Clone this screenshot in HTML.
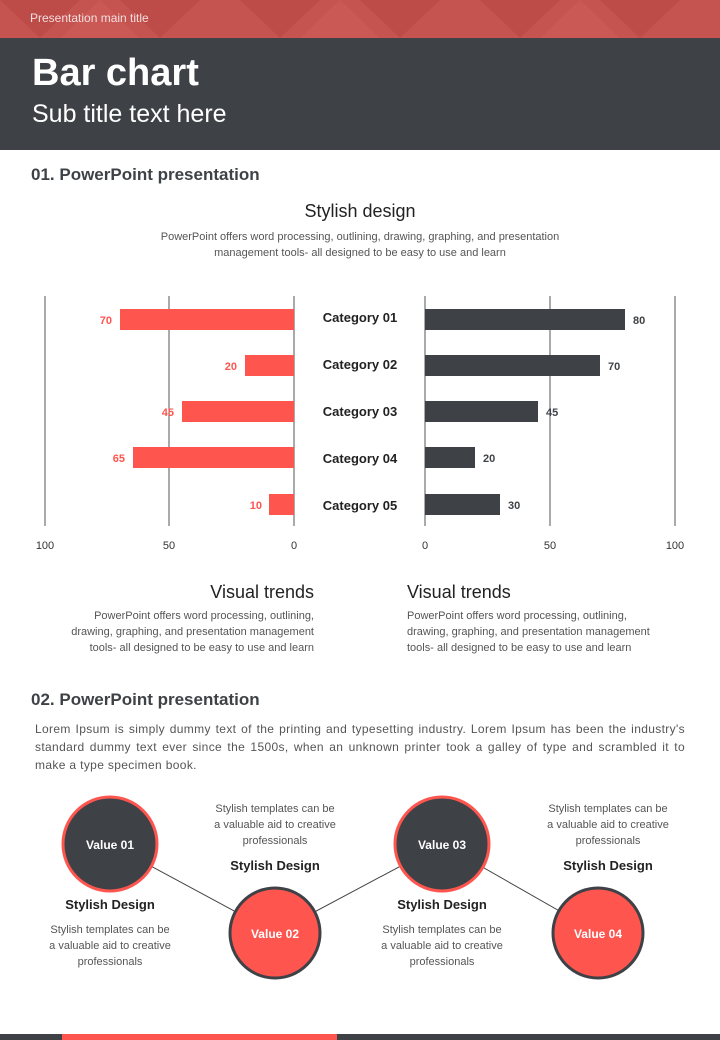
<!DOCTYPE html>
<html><head><meta charset="utf-8"><style>
*{margin:0;padding:0;box-sizing:border-box}
body{width:720px;height:1040px;background:#fff;font-family:"Liberation Sans",sans-serif;position:relative;overflow:hidden;color:#3e4247}
.abs{position:absolute}
.t{font-size:11px;color:#555;line-height:16px}
.c{text-align:center}
</style></head><body>
<div class="abs" style="left:0;top:0;width:720px;height:38px;background:#c55350"></div>
<svg class="abs" style="left:0;top:0" width="720" height="38">
<g fill="#b84845" opacity="0.6"><polygon points="0,0 40,38 80,0"/><polygon points="120,0 160,38 200,0"/><polygon points="240,0 280,38 320,0"/><polygon points="360,0 400,38 440,0"/><polygon points="480,0 520,38 560,0"/><polygon points="600,0 640,38 680,0"/></g>
<g fill="#cf5f5b" opacity="0.5"><polygon points="60,38 100,0 140,38"/><polygon points="300,38 340,0 380,38"/><polygon points="540,38 580,0 620,38"/></g>
</svg>
<div class="abs" style="left:30px;top:11px;font-size:12px;color:#f3dede">Presentation main title</div>
<div class="abs" style="left:0;top:38px;width:720px;height:112px;background:#3e4247"></div>
<div class="abs" style="left:32px;top:52px;font-size:38px;font-weight:bold;color:#fff">Bar chart</div>
<div class="abs" style="left:32px;top:100px;font-size:25px;color:#fff">Sub title text here</div>

<div class="abs" style="left:31px;top:165px;font-size:17px;font-weight:bold">01. PowerPoint presentation</div>
<div class="abs c" style="left:0;width:720px;top:201px;font-size:18px;color:#222">Stylish design</div>
<div class="abs c t" style="left:0;width:720px;top:229px">PowerPoint offers word processing, outlining, drawing, graphing, and presentation<br>management tools- all designed to be easy to use and learn</div>

<svg class="abs" style="left:0;top:0" width="720" height="560">
<g stroke="#555" stroke-width="1">
<line x1="45" y1="296" x2="45" y2="526"/><line x1="169" y1="296" x2="169" y2="526"/><line x1="294" y1="296" x2="294" y2="526"/>
<line x1="425" y1="296" x2="425" y2="526"/><line x1="550" y1="296" x2="550" y2="526"/><line x1="675" y1="296" x2="675" y2="526"/>
</g>
<g fill="#ff554f">
<rect x="120" y="309" width="174" height="21"/><rect x="245" y="355" width="49" height="21"/><rect x="182" y="401" width="112" height="21"/><rect x="133" y="447" width="161" height="21"/><rect x="269" y="494" width="25" height="21"/>
</g>
<g fill="#3e4247">
<rect x="425" y="309" width="200" height="21"/><rect x="425" y="355" width="175" height="21"/><rect x="425" y="401" width="113" height="21"/><rect x="425" y="447" width="50" height="21"/><rect x="425" y="494" width="75" height="21"/>
</g>
<g font-family="Liberation Sans" font-size="11" font-weight="bold" fill="#ff554f" text-anchor="end">
<text x="112" y="324">70</text><text x="237" y="370">20</text><text x="174" y="416">45</text><text x="125" y="462">65</text><text x="262" y="509">10</text>
</g>
<g font-family="Liberation Sans" font-size="11" font-weight="bold" fill="#3e4247">
<text x="633" y="324">80</text><text x="608" y="370">70</text><text x="546" y="416">45</text><text x="483" y="462">20</text><text x="508" y="509">30</text>
</g>
<g font-family="Liberation Sans" font-size="13" font-weight="bold" fill="#222" text-anchor="middle">
<text x="360" y="322">Category 01</text><text x="360" y="369">Category 02</text><text x="360" y="416">Category 03</text><text x="360" y="463">Category 04</text><text x="360" y="510">Category 05</text>
</g>
<g font-family="Liberation Sans" font-size="11" fill="#333" text-anchor="middle">
<text x="45" y="549">100</text><text x="169" y="549">50</text><text x="294" y="549">0</text><text x="425" y="549">0</text><text x="550" y="549">50</text><text x="675" y="549">100</text>
</g>
</svg>

<div class="abs" style="right:406px;top:582px;font-size:18px;color:#222">Visual trends</div>
<div class="abs t" style="right:406px;top:608px;text-align:right;width:290px">PowerPoint offers word processing, outlining,<br>drawing, graphing, and presentation management<br>tools- all designed to be easy to use and learn</div>
<div class="abs" style="left:407px;top:582px;font-size:18px;color:#222">Visual trends</div>
<div class="abs t" style="left:407px;top:608px;width:290px">PowerPoint offers word processing, outlining,<br>drawing, graphing, and presentation management<br>tools- all designed to be easy to use and learn</div>

<div class="abs" style="left:31px;top:690px;font-size:17px;font-weight:bold">02. PowerPoint presentation</div>
<div class="abs t" style="left:35px;top:720px;width:650px;text-align:justify;line-height:18px;font-size:12px;letter-spacing:0.35px">Lorem Ipsum is simply dummy text of the printing and typesetting industry. Lorem Ipsum has been the industry's standard dummy text ever since the 1500s, when an unknown printer took a galley of type and scrambled it to make a type specimen book.</div>

<svg class="abs" style="left:0;top:0" width="720" height="1040">
<g stroke="#444" stroke-width="1"><line x1="110" y1="844" x2="275" y2="933"/><line x1="275" y1="933" x2="442" y2="844"/><line x1="442" y1="844" x2="598" y2="933"/></g>
<circle cx="110" cy="844" r="47" fill="#3e4247" stroke="#ff554f" stroke-width="3"/>
<circle cx="442" cy="844" r="47" fill="#3e4247" stroke="#ff554f" stroke-width="3"/>
<circle cx="275" cy="933" r="45" fill="#ff554f" stroke="#3e4247" stroke-width="3"/>
<circle cx="598" cy="933" r="45" fill="#ff554f" stroke="#3e4247" stroke-width="3"/>
<g font-family="Liberation Sans" font-size="12" font-weight="bold" fill="#fff" text-anchor="middle">
<text x="110" y="849">Value 01</text><text x="442" y="849">Value 03</text><text x="275" y="938">Value 02</text><text x="598" y="938">Value 04</text>
</g>
</svg>
<div class="abs c" style="left:10px;width:200px;top:897px;font-size:13px;font-weight:bold;color:#222">Stylish Design</div>
<div class="abs c t" style="left:10px;width:200px;top:922px">Stylish templates can be<br>a valuable aid to creative<br>professionals</div>
<div class="abs c" style="left:342px;width:200px;top:897px;font-size:13px;font-weight:bold;color:#222">Stylish Design</div>
<div class="abs c t" style="left:342px;width:200px;top:922px">Stylish templates can be<br>a valuable aid to creative<br>professionals</div>
<div class="abs c t" style="left:175px;width:200px;top:801px">Stylish templates can be<br>a valuable aid to creative<br>professionals</div>
<div class="abs c" style="left:175px;width:200px;top:858px;font-size:13px;font-weight:bold;color:#222">Stylish Design</div>
<div class="abs c t" style="left:508px;width:200px;top:801px">Stylish templates can be<br>a valuable aid to creative<br>professionals</div>
<div class="abs c" style="left:508px;width:200px;top:858px;font-size:13px;font-weight:bold;color:#222">Stylish Design</div>

<div class="abs" style="left:0;top:1034px;width:720px;height:6px;background:#3e4247"></div>
<div class="abs" style="left:62px;top:1034px;width:275px;height:6px;background:#ff554f"></div>
</body></html>
